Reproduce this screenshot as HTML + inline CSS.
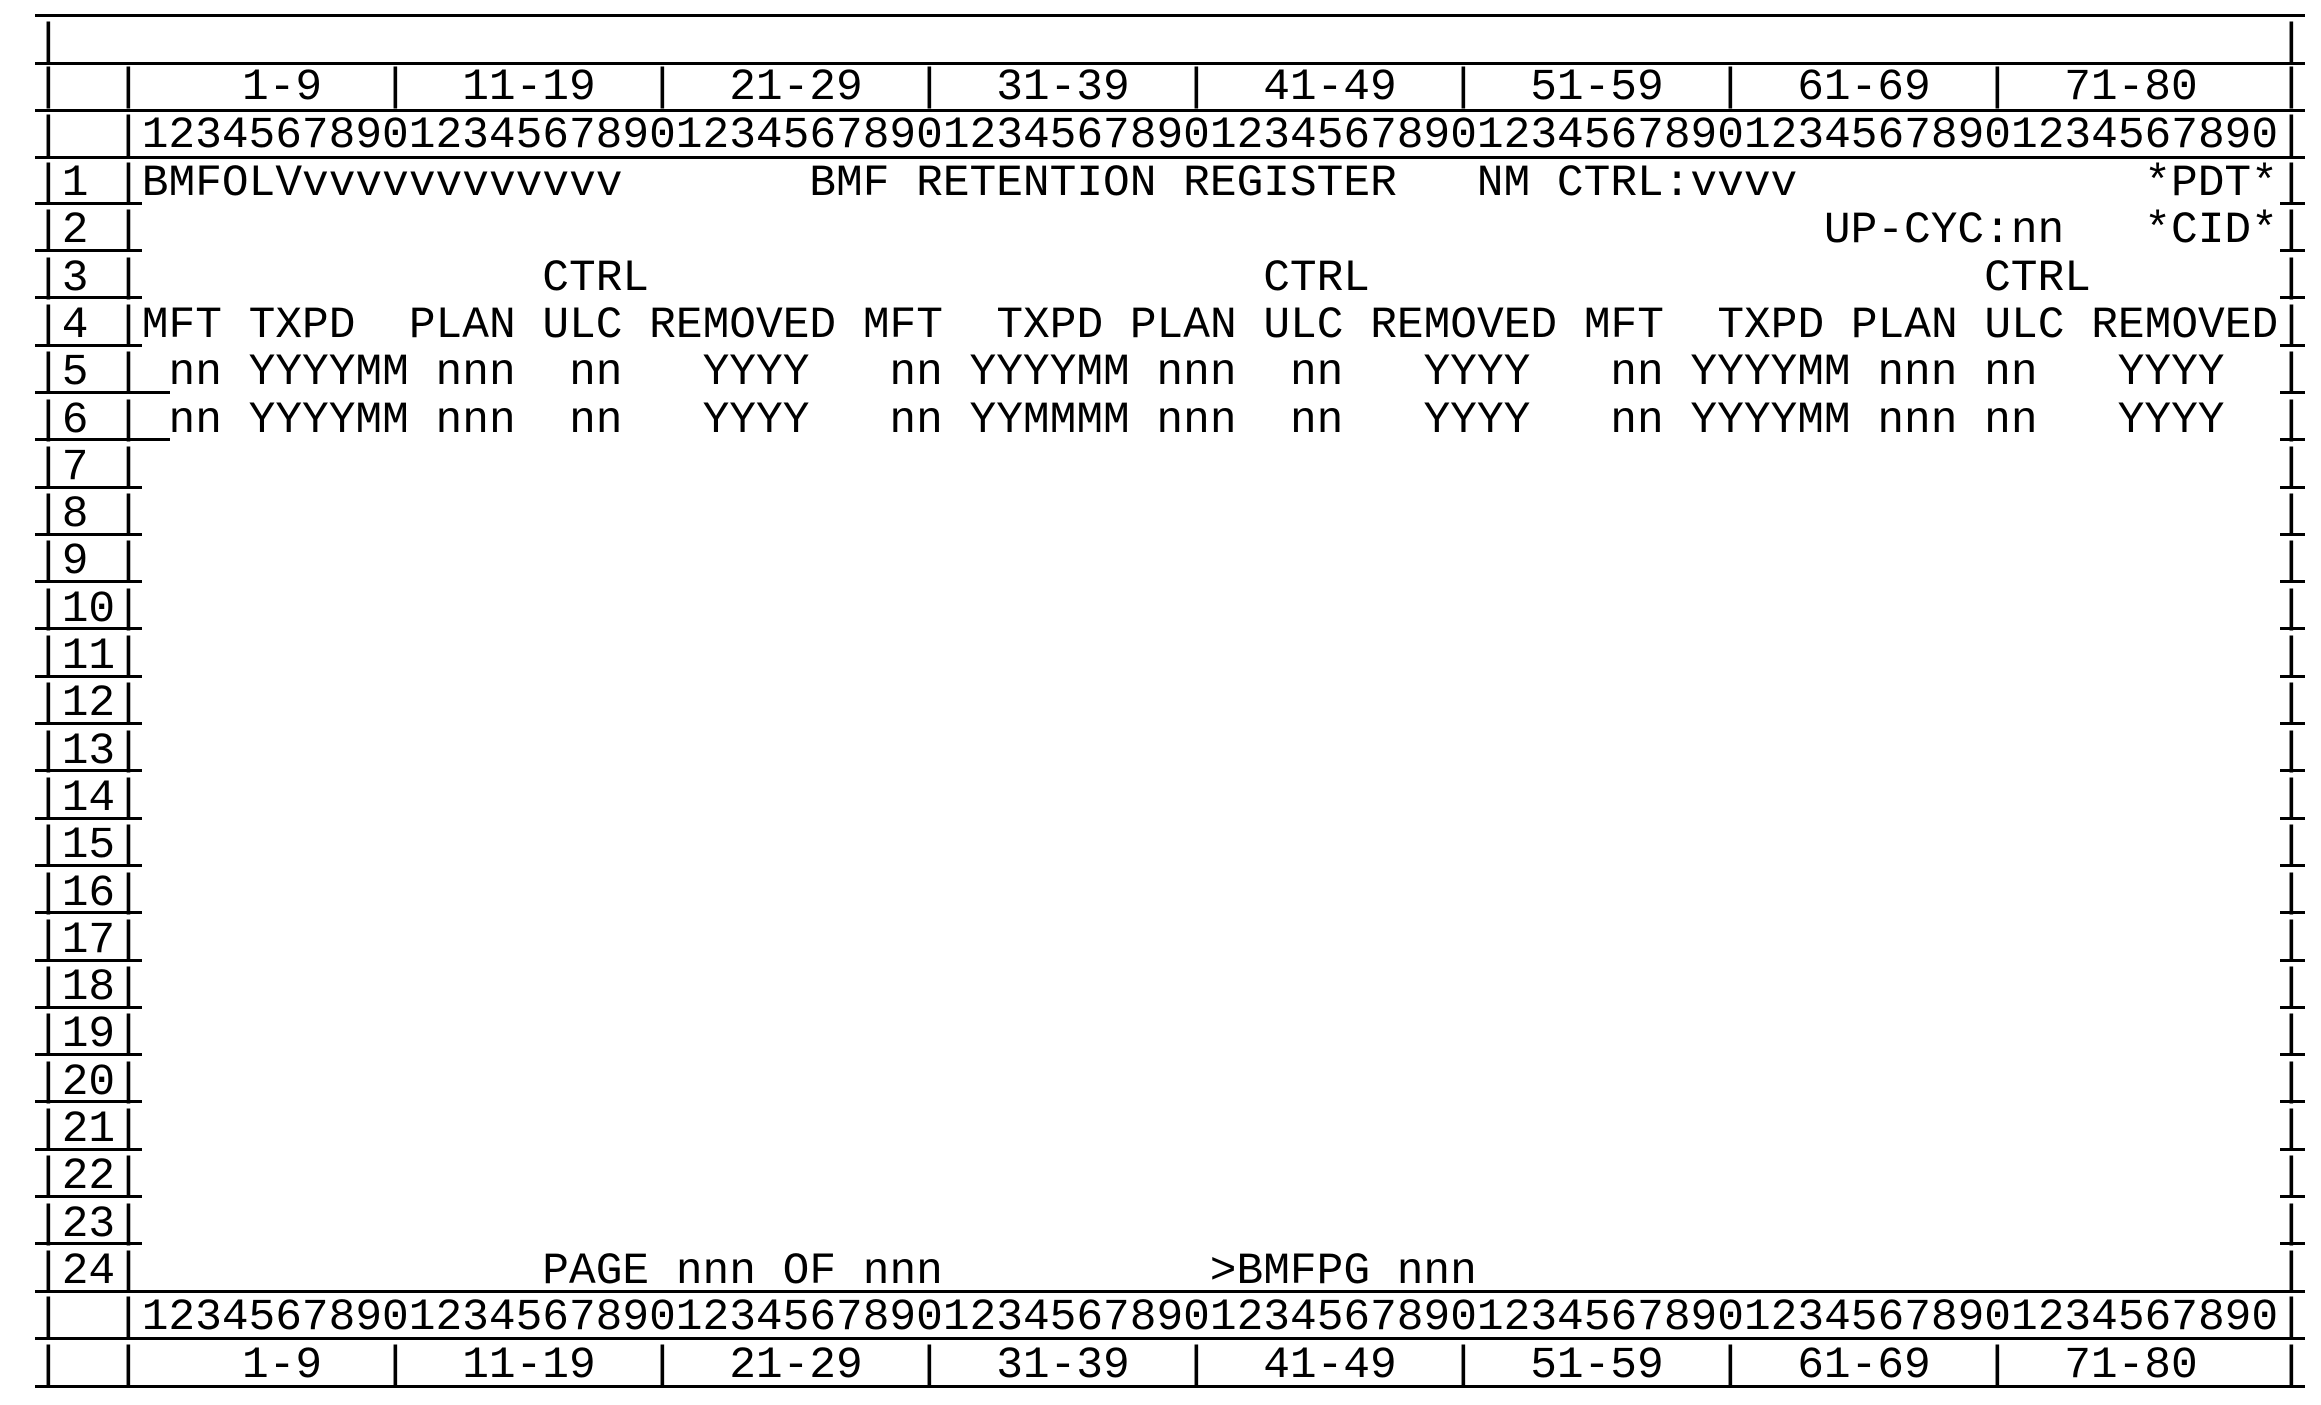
<!DOCTYPE html>
<html><head><meta charset="utf-8"><style>
html,body{margin:0;padding:0;background:#fff}
#c{position:relative;width:2321px;height:1405px;overflow:hidden;background:#fff}
.r{position:absolute;left:0;width:2321px;height:45px}
.r span{position:absolute;top:0;font:44.5px/44.5px "Liberation Mono",monospace;white-space:pre;color:#000}
.h{position:absolute;height:3px;background:#000}
</style></head><body><div id="c">
<div class="h" style="left:35px;width:2270px;top:14px"></div>
<div class="h" style="left:35px;width:2270px;top:62px"></div>
<div class="h" style="left:35px;width:2270px;top:109px"></div>
<div class="h" style="left:35px;width:2270px;top:156px"></div>
<div class="h" style="left:35px;width:2270px;top:1290px"></div>
<div class="h" style="left:35px;width:2270px;top:1337px"></div>
<div class="h" style="left:35px;width:2270px;top:1385px"></div>

<div class="h" style="left:35px;width:107px;top:202px"></div><div class="h" style="left:2280px;width:25px;top:202px"></div>
<div class="h" style="left:35px;width:107px;top:249px"></div><div class="h" style="left:2280px;width:25px;top:249px"></div>
<div class="h" style="left:35px;width:107px;top:296px"></div><div class="h" style="left:2280px;width:25px;top:296px"></div>
<div class="h" style="left:35px;width:107px;top:344px"></div><div class="h" style="left:2280px;width:25px;top:344px"></div>
<div class="h" style="left:35px;width:135px;top:391px"></div><div class="h" style="left:2280px;width:25px;top:391px"></div>
<div class="h" style="left:35px;width:135px;top:438px"></div><div class="h" style="left:2280px;width:25px;top:438px"></div>
<div class="h" style="left:35px;width:107px;top:486px"></div><div class="h" style="left:2280px;width:25px;top:486px"></div>
<div class="h" style="left:35px;width:107px;top:533px"></div><div class="h" style="left:2280px;width:25px;top:533px"></div>
<div class="h" style="left:35px;width:107px;top:580px"></div><div class="h" style="left:2280px;width:25px;top:580px"></div>
<div class="h" style="left:35px;width:107px;top:627px"></div><div class="h" style="left:2280px;width:25px;top:627px"></div>
<div class="h" style="left:35px;width:107px;top:675px"></div><div class="h" style="left:2280px;width:25px;top:675px"></div>
<div class="h" style="left:35px;width:107px;top:722px"></div><div class="h" style="left:2280px;width:25px;top:722px"></div>
<div class="h" style="left:35px;width:107px;top:769px"></div><div class="h" style="left:2280px;width:25px;top:769px"></div>
<div class="h" style="left:35px;width:107px;top:817px"></div><div class="h" style="left:2280px;width:25px;top:817px"></div>
<div class="h" style="left:35px;width:107px;top:864px"></div><div class="h" style="left:2280px;width:25px;top:864px"></div>
<div class="h" style="left:35px;width:107px;top:911px"></div><div class="h" style="left:2280px;width:25px;top:911px"></div>
<div class="h" style="left:35px;width:107px;top:959px"></div><div class="h" style="left:2280px;width:25px;top:959px"></div>
<div class="h" style="left:35px;width:107px;top:1006px"></div><div class="h" style="left:2280px;width:25px;top:1006px"></div>
<div class="h" style="left:35px;width:107px;top:1053px"></div><div class="h" style="left:2280px;width:25px;top:1053px"></div>
<div class="h" style="left:35px;width:107px;top:1100px"></div><div class="h" style="left:2280px;width:25px;top:1100px"></div>
<div class="h" style="left:35px;width:107px;top:1148px"></div><div class="h" style="left:2280px;width:25px;top:1148px"></div>
<div class="h" style="left:35px;width:107px;top:1195px"></div><div class="h" style="left:2280px;width:25px;top:1195px"></div>
<div class="h" style="left:35px;width:107px;top:1242px"></div><div class="h" style="left:2280px;width:25px;top:1242px"></div>

<div class="r" style="top:21px"><span style="left:35px">|</span><span style="left:2278px">|</span></div>
<div class="r" style="top:66px"><span style="left:35px">|</span><span style="left:115px">|</span>
<span style="left:242px">1-9</span><span style="left:382px">|</span><span style="left:462.2px">11-19</span><span style="left:649px">|</span><span style="left:729.2px">21-29</span><span style="left:916px">|</span><span style="left:996.2px">31-39</span><span style="left:1183px">|</span><span style="left:1263.2px">41-49</span><span style="left:1450px">|</span><span style="left:1530.2px">51-59</span><span style="left:1717px">|</span><span style="left:1797.2px">61-69</span><span style="left:1984px">|</span><span style="left:2064.2px">71-80</span><span style="left:2278px">|</span></div>
<div class="r" style="top:114px"><span style="left:35px">|</span><span style="left:115px">|12345678901234567890123456789012345678901234567890123456789012345678901234567890|</span></div>

<div class="r" style="top:162px"><span style="left:35px">|1 |</span><span style="left:141.8px">BMFOLVvvvvvvvvvvvv</span><span style="left:809.3px">BMF RETENTION REGISTER</span><span style="left:1476.8px">NM CTRL:vvvv</span><span style="left:2144.3px">*PDT*</span><span style="left:2278px">|</span></div>
<div class="r" style="top:209.3px"><span style="left:35px">|2 |</span><span style="left:1823.9px">UP-CYC:nn</span><span style="left:2144.3px">*CID*</span><span style="left:2278px">|</span></div>
<div class="r" style="top:256.6px"><span style="left:35px">|3 |</span><span style="left:542.3px">CTRL</span><span style="left:1263.2px">CTRL</span><span style="left:1984.1px">CTRL</span><span style="left:2278px">|</span></div>
<div class="r" style="top:303.9px"><span style="left:35px">|4 |</span><span style="left:141.8px">MFT TXPD  PLAN ULC REMOVED MFT  TXPD PLAN ULC REMOVED MFT  TXPD PLAN ULC REMOVED|</span></div>
<div class="r" style="top:351.2px"><span style="left:35px">|5 |</span><span style="left:168.5px">nn YYYYMM nnn  nn   YYYY</span><span style="left:889.4px">nn YYYYMM nnn  nn   YYYY</span><span style="left:1610.3px">nn YYYYMM nnn nn   YYYY</span><span style="left:2278px">|</span></div>
<div class="r" style="top:398.5px"><span style="left:35px">|6 |</span><span style="left:168.5px">nn YYYYMM nnn  nn   YYYY</span><span style="left:889.4px">nn YYMMMM nnn  nn   YYYY</span><span style="left:1610.3px">nn YYYYMM nnn nn   YYYY</span><span style="left:2278px">|</span></div>
<div class="r" style="top:445.8px"><span style="left:35px">|7 |</span><span style="left:2278px">|</span></div>
<div class="r" style="top:493.1px"><span style="left:35px">|8 |</span><span style="left:2278px">|</span></div>
<div class="r" style="top:540.4px"><span style="left:35px">|9 |</span><span style="left:2278px">|</span></div>
<div class="r" style="top:587.7px"><span style="left:35px">|10|</span><span style="left:2278px">|</span></div>
<div class="r" style="top:635px"><span style="left:35px">|11|</span><span style="left:2278px">|</span></div>
<div class="r" style="top:682.3px"><span style="left:35px">|12|</span><span style="left:2278px">|</span></div>
<div class="r" style="top:729.6px"><span style="left:35px">|13|</span><span style="left:2278px">|</span></div>
<div class="r" style="top:776.9px"><span style="left:35px">|14|</span><span style="left:2278px">|</span></div>
<div class="r" style="top:824.2px"><span style="left:35px">|15|</span><span style="left:2278px">|</span></div>
<div class="r" style="top:871.5px"><span style="left:35px">|16|</span><span style="left:2278px">|</span></div>
<div class="r" style="top:918.8px"><span style="left:35px">|17|</span><span style="left:2278px">|</span></div>
<div class="r" style="top:966.1px"><span style="left:35px">|18|</span><span style="left:2278px">|</span></div>
<div class="r" style="top:1013.4px"><span style="left:35px">|19|</span><span style="left:2278px">|</span></div>
<div class="r" style="top:1060.7px"><span style="left:35px">|20|</span><span style="left:2278px">|</span></div>
<div class="r" style="top:1108px"><span style="left:35px">|21|</span><span style="left:2278px">|</span></div>
<div class="r" style="top:1155.3px"><span style="left:35px">|22|</span><span style="left:2278px">|</span></div>
<div class="r" style="top:1202.6px"><span style="left:35px">|23|</span><span style="left:2278px">|</span></div>
<div class="r" style="top:1249.9px"><span style="left:35px">|24|</span><span style="left:542.3px">PAGE nnn OF nnn</span><span style="left:1209.8px">&gt;BMFPG nnn</span><span style="left:2278px">|</span></div>

<div class="r" style="top:1296px"><span style="left:35px">|</span><span style="left:115px">|12345678901234567890123456789012345678901234567890123456789012345678901234567890|</span></div>
<div class="r" style="top:1344px"><span style="left:35px">|</span><span style="left:115px">|</span>
<span style="left:242px">1-9</span><span style="left:382px">|</span><span style="left:462.2px">11-19</span><span style="left:649px">|</span><span style="left:729.2px">21-29</span><span style="left:916px">|</span><span style="left:996.2px">31-39</span><span style="left:1183px">|</span><span style="left:1263.2px">41-49</span><span style="left:1450px">|</span><span style="left:1530.2px">51-59</span><span style="left:1717px">|</span><span style="left:1797.2px">61-69</span><span style="left:1984px">|</span><span style="left:2064.2px">71-80</span><span style="left:2278px">|</span></div>
</div></body></html>
